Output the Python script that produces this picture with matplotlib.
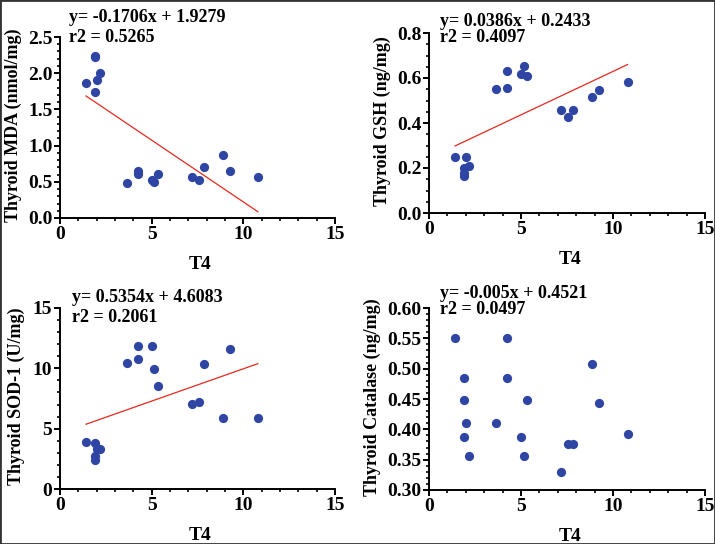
import numpy as np
import matplotlib.pyplot as plt
from matplotlib.patches import Rectangle

plt.rcParams['font.family'] = ['Liberation Serif', 'DejaVu Serif']
plt.rcParams['font.weight'] = 'bold'

# T4 values (shared x for all four panels)
t4 = [1.42, 1.90, 1.90, 1.92, 2.00, 2.20, 3.66, 4.25, 4.25, 5.01, 5.15, 5.33,
      7.20, 7.58, 7.84, 8.87, 9.26, 10.79]

mda = [1.86, 2.24, 2.23, 1.74, 1.91, 2.00, 0.48, 0.65, 0.61, 0.52, 0.50, 0.61,
       0.57, 0.53, 0.70, 0.87, 0.65, 0.57]
gsh = [0.247, 0.200, 0.166, 0.180, 0.247, 0.210, 0.551, 0.554, 0.630, 0.619,
       0.652, 0.610, 0.459, 0.427, 0.459, 0.517, 0.547, 0.582]
sod = [3.90, 3.82, 2.71, 2.44, 3.30, 3.35, 10.46, 11.87, 10.77, 11.87, 9.94,
       8.55, 7.03, 7.17, 10.32, 5.92, 11.60, 5.92]
cat = [0.550, 0.484, 0.449, 0.387, 0.411, 0.356, 0.411, 0.550, 0.484, 0.387,
       0.356, 0.449, 0.329, 0.376, 0.376, 0.507, 0.444, 0.393]

# regression coefficients (slope, intercept) as printed on the chart
fit_mda = (-0.1706, 1.9279)
fit_gsh = (0.0386, 0.2433)
fit_sod = (0.5354, 4.6083)

eq_text = [
    ("y= -0.1706x + 1.9279", "r2 = 0.5265"),
    ("y= 0.0386x + 0.2433", "r2 = 0.4097"),
    ("y= 0.5354x + 4.6083", "r2 = 0.2061"),
    ("y= -0.005x + 0.4521", "r2 = 0.0497"),
]
ylabels = ["Thyroid MDA (nmol/mg)", "Thyroid GSH (ng/mg)",
           "Thyroid SOD-1 (U/mg)", "Thyroid Catalase (ng/mg)"]

W, H = 715, 544
fig = plt.figure(figsize=(W / 100, H / 100), dpi=100)

# axes boxes in pixels: left, top, right, bottom
boxes = [(60, 37, 335, 218), (429, 33, 705, 213),
         (60, 308, 335, 489), (429, 308, 705, 490)]
ylims = [(0, 2.5), (0, 0.8), (0, 15), (0.30, 0.60)]
ymajor = [0.5, 0.2, 5, 0.05]
yminor = [0.1, 0.05, 1, 0.01]
yfmt = ["{:.1f}", "{:.1f}", "{:.0f}", "{:.2f}"]
ydata = [mda, gsh, sod, cat]
fits = [fit_mda, fit_gsh, fit_sod, None]
ylab_x = [-0.139, -0.139, -0.127, -0.175]
text_pos = [(69, 17, 37), (440, 21, 37), (72, 297, 317), (440, 293, 310)]

blue = '#2E45A3'
fs = 13

for i in range(4):
    l, t, r, b = boxes[i]
    ax = fig.add_axes([l / W, 1 - b / H, (r - l) / W, (b - t) / H])
    ax.scatter(t4, ydata[i], s=44, color=blue, zorder=3, linewidths=0)
    if fits[i] is not None:
        xs = np.array([min(t4), max(t4)])
        ax.plot(xs, fits[i][0] * xs + fits[i][1], color='#E8281E', lw=0.9)
    ax.set_xlim(0, 15)
    ax.set_ylim(*ylims[i])
    ax.set_xticks([0, 5, 10, 15])
    ax.set_xticks(np.arange(0, 15.01, 1), minor=True)
    lo, hi = ylims[i]
    yt = np.arange(lo, hi + 1e-9, ymajor[i])
    ax.set_yticks(yt)
    ax.set_yticklabels([yfmt[i].format(v) for v in yt])
    ax.set_yticks(np.arange(lo, hi + 1e-9, yminor[i]), minor=True)
    for s in ['top', 'right']:
        ax.spines[s].set_visible(False)
    for s in ['left', 'bottom']:
        ax.spines[s].set_linewidth(1.4)
    ax.tick_params(which='major', length=4, width=1.4, labelsize=14, pad=1.5)
    ax.tick_params(which='minor', length=2.5, width=1.2)
    ax.set_xlabel("T4", fontsize=14, fontweight='bold')
    ax.set_ylabel(ylabels[i], fontsize=fs, fontweight='bold')
    ax.xaxis.set_label_coords(0.51, -0.21)
    ax.yaxis.set_label_coords(ylab_x[i], 0.51)
    tx, ty1, ty2 = text_pos[i]
    fig.text(tx / W, 1 - ty1 / H, eq_text[i][0], fontsize=fs, fontweight='bold', va='center')
    fig.text(tx / W, 1 - ty2 / H, eq_text[i][1], fontsize=fs, fontweight='bold', va='center')

fig.patches.append(Rectangle((0, 0), 1, 1, transform=fig.transFigure, fill=False,
                             edgecolor='#333333', lw=2))

fig.savefig('out.png', dpi=100)
